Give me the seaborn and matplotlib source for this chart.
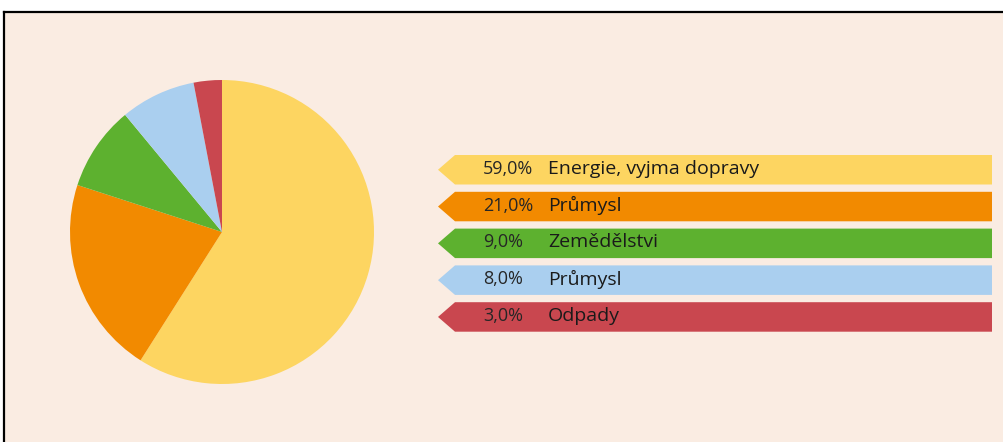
import matplotlib
matplotlib.use("Agg")
import matplotlib.pyplot as plt
from matplotlib.patches import Polygon, Rectangle
import seaborn as sns

# ---- data ----
categories = ["Energie, vyjma dopravy", "Průmysl", "Zemědělství", "Průmysl", "Odpady"]
legend_labels = ["Energie, vyjma dopravy", "Průmysl", "Zemědělstvi", "Průmysl", "Odpady"]
values = [59.0, 21.0, 9.0, 8.0, 3.0]
pct_labels = ["59,0%", "21,0%", "9,0%", "8,0%", "3,0%"]
colors = ["#FDD561", "#F28A00", "#5DB12F", "#AACFEF", "#C9474F"]

sns.set_theme(style="white")
plt.rcParams["font.family"] = ["Open Sans", "DejaVu Sans"]
palette = sns.color_palette(colors)

W, H = 1004, 442
fig = plt.figure(figsize=(W / 100, H / 100), dpi=100, facecolor="white")
ax = fig.add_axes([0, 0, 1, 1])
ax.set_xlim(0, W)
ax.set_ylim(0, H)
ax.set_aspect("equal")
ax.axis("off")

def Y(y):  # pixel row -> data y
    return H - y

# background box with black border (top and left visible)
ax.add_patch(Rectangle((4, -10), W + 20, Y(12) + 10, facecolor="#FAECE2",
                       edgecolor="none", zorder=0))
ax.plot([4, W + 5], [Y(12), Y(12)], color="black", linewidth=1.6, zorder=1,
        solid_capstyle="projecting")
ax.plot([4, 4], [Y(12), -5], color="black", linewidth=1.6, zorder=1,
        solid_capstyle="projecting")

# pie
ax.pie(values, colors=palette, startangle=90, counterclock=False,
       center=(222, Y(232)), radius=152,
       wedgeprops=dict(linewidth=0), frame=True)
ax.set_xlim(0, W)
ax.set_ylim(0, H)
ax.axis("off")

# legend arrows
top0, h, pitch = 155, 29.5, 36.8
x_tip, x_body, x_end = 438, 455, 992
for i, (lab, pct, col) in enumerate(zip(legend_labels, pct_labels, palette)):
    t = top0 + i * pitch
    b = t + h
    m = (t + b) / 2
    poly = Polygon([(x_tip, Y(m)), (x_body, Y(t)), (x_end, Y(t)),
                    (x_end, Y(b)), (x_body, Y(b))], closed=True,
                   facecolor=col, edgecolor="none", zorder=2)
    ax.add_patch(poly)
    ax.text(483, Y(m) + 1, pct, ha="left", va="center", fontsize=13,
            color="#262626", zorder=3)
    ax.text(548, Y(m) + 1, lab, ha="left", va="center", fontsize=14,
            color="#1a1a1a", zorder=3)

fig.savefig("out.png", dpi=100, facecolor="white")
